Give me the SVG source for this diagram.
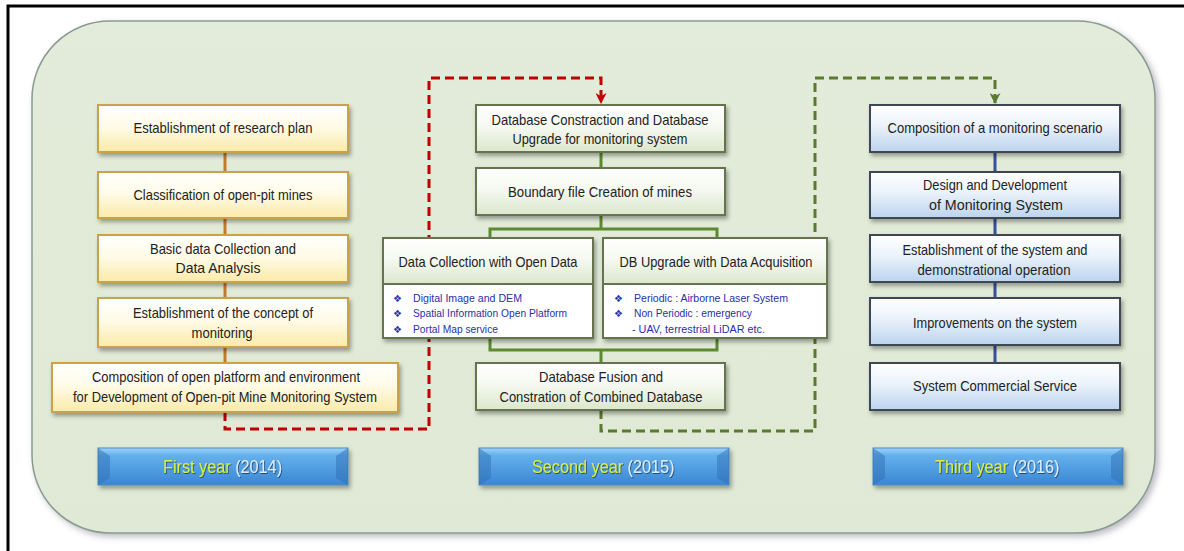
<svg xmlns="http://www.w3.org/2000/svg" width="1184" height="551" viewBox="0 0 1184 551">
<defs>
<linearGradient id="gPanel" x1="0" y1="0" x2="0" y2="1"><stop offset="0" stop-color="#e3ecda"/><stop offset="1" stop-color="#dfe9d5"/></linearGradient>
<linearGradient id="gY" x1="0" y1="0" x2="0" y2="1"><stop offset="0" stop-color="#ffffff"/><stop offset="0.45" stop-color="#fffbe8"/><stop offset="1" stop-color="#fbeaa8"/></linearGradient>
<linearGradient id="gG" x1="0" y1="0" x2="0" y2="1"><stop offset="0" stop-color="#ffffff"/><stop offset="0.45" stop-color="#f6f9f1"/><stop offset="1" stop-color="#dbe7cc"/></linearGradient>
<linearGradient id="gB" x1="0" y1="0" x2="0" y2="1"><stop offset="0" stop-color="#ffffff"/><stop offset="0.4" stop-color="#eef4fb"/><stop offset="1" stop-color="#bcd4ee"/></linearGradient>
<linearGradient id="gYear" x1="0" y1="0" x2="0" y2="1"><stop offset="0" stop-color="#9cd4f8"/><stop offset="0.2" stop-color="#64b0ec"/><stop offset="1" stop-color="#3a86d2"/></linearGradient>
<filter id="sh" x="-10%" y="-20%" width="125%" height="150%"><feDropShadow dx="2" dy="3" stdDeviation="2" flood-color="#000" flood-opacity="0.35"/></filter>
<filter id="psh" x="-5%" y="-5%" width="110%" height="115%"><feDropShadow dx="3" dy="3" stdDeviation="3" flood-color="#556" flood-opacity="0.4"/></filter>
<filter id="tsh" x="-10%" y="-30%" width="120%" height="160%"><feDropShadow dx="1" dy="1" stdDeviation="0.6" flood-color="#1a3a60" flood-opacity="0.8"/></filter>
<marker id="arR" viewBox="0 0 10 10" refX="10" refY="5" markerWidth="11" markerHeight="11" orient="auto" markerUnits="userSpaceOnUse"><path d="M0,0 L10,5 L0,10 L3,5 Z" fill="#c00000"/></marker>
<marker id="arG" viewBox="0 0 10 10" refX="10" refY="5" markerWidth="11" markerHeight="11" orient="auto" markerUnits="userSpaceOnUse"><path d="M0,0 L10,5 L0,10 L3,5 Z" fill="#5a7a30"/></marker>
</defs>
<style>
.t{font-family:"Liberation Sans Narrow","Liberation Sans",Arial,sans-serif;font-size:14.5px;fill:#222;text-anchor:middle;dominant-baseline:central}
.d{font-family:"Liberation Sans Narrow","Liberation Sans",Arial,sans-serif;font-size:11px;fill:#2a30a8;dominant-baseline:central}
.bul{font-family:"DejaVu Sans",sans-serif;font-size:10px;fill:#2a30a8;dominant-baseline:central}
.yr{font-family:"Liberation Sans",Arial,sans-serif;font-size:19px;dominant-baseline:central;filter:url(#tsh)}
.yl{fill:#d6f03c}
.yn{fill:#dcecff}
.by{fill:url(#gY);stroke:#c9a24a;stroke-width:2;filter:url(#sh)}
.bg{fill:url(#gG);stroke:#65734f;stroke-width:2;filter:url(#sh)}
.bb{fill:url(#gB);stroke:#3c4656;stroke-width:2;filter:url(#sh)}
.bw{fill:#ffffff;stroke:#65734f;stroke-width:2;filter:url(#sh)}
.year{fill:url(#gYear);stroke:#4f88be;stroke-width:1;filter:url(#sh)}
.bev{fill:#2f6fb4;opacity:0.5}
.co{stroke:#c8782e;stroke-width:3;fill:none}
.cg{stroke:#5c8a32;stroke-width:3;fill:none}
.cb{stroke:#34529a;stroke-width:3;fill:none}
.dr{stroke:#c00000;stroke-width:3;fill:none;stroke-dasharray:9 5}
.dg{stroke:#5a7a30;stroke-width:3;fill:none;stroke-dasharray:9 5}
</style>
<rect x="0" y="0" width="1184" height="551" fill="#ffffff"/>
<rect x="8" y="6" width="1190" height="560" fill="none" stroke="#000" stroke-width="3"/>
<rect x="32" y="21" width="1123" height="512" rx="78" ry="78" fill="url(#gPanel)" stroke="#8a9a92" stroke-width="1.5" filter="url(#psh)"/>

<g id="connectors">
<path class="co" d="M225,152 V172 M225,218 V235 M225,282 V298 M225,347 V363"/>
<path class="cg" d="M601,152 V168 M601,215 V229 M490,238 V229 H717 V238 M490,338 V350 H717 V338 M601,350 V363"/>
<path class="cb" d="M995,152 V172 M995,218 V235 M995,282 V298 M995,345 V363"/>
<path class="dr" d="M225,412 V429 H429 V78 H601 V104" marker-end="url(#arR)"/>
<path class="dg" d="M601,410 V431 H815 V78 H995 V104" marker-end="url(#arG)"/>
</g>

<g id="y1">
<rect class="by" x="98" y="105" width="250" height="47"/>
<text class="t" x="223" y="128" textLength="179" lengthAdjust="spacingAndGlyphs">Establishment of research plan</text>
</g>
<g id="y2">
<rect class="by" x="98" y="172" width="250" height="46"/>
<text class="t" x="223" y="195" textLength="179" lengthAdjust="spacingAndGlyphs">Classification of open-pit mines</text>
</g>
<g id="y3">
<rect class="by" x="98" y="235" width="250" height="47"/>
<text class="t" x="223" y="249" textLength="146" lengthAdjust="spacingAndGlyphs">Basic data Collection and</text>
<text class="t" x="218" y="268" textLength="85" lengthAdjust="spacingAndGlyphs">Data Analysis</text>
</g>
<g id="y4">
<rect class="by" x="98" y="298" width="250" height="49"/>
<text class="t" x="223" y="313" textLength="180" lengthAdjust="spacingAndGlyphs">Establishment of the concept of</text>
<text class="t" x="222" y="333" textLength="61" lengthAdjust="spacingAndGlyphs">monitoring</text>
</g>
<g id="y5">
<rect class="by" x="52" y="363" width="346" height="49"/>
<text class="t" x="226" y="377" textLength="268" lengthAdjust="spacingAndGlyphs">Composition of open platform and environment</text>
<text class="t" x="225" y="397" textLength="304" lengthAdjust="spacingAndGlyphs">for Development of Open-pit Mine Monitoring System</text>
</g>

<g id="m1">
<rect class="bg" x="476" y="105" width="249" height="47"/>
<text class="t" x="600" y="120" textLength="217" lengthAdjust="spacingAndGlyphs">Database Constraction  and Database</text>
<text class="t" x="600" y="139" textLength="175" lengthAdjust="spacingAndGlyphs">Upgrade for monitoring system</text>
</g>
<g id="m2">
<rect class="bg" x="476" y="168" width="249" height="47"/>
<text class="t" x="600" y="192" textLength="184" lengthAdjust="spacingAndGlyphs">Boundary file Creation  of mines</text>
</g>
<g id="m3">
<rect class="bw" x="383" y="238" width="210" height="100"/>
<rect x="383" y="238" width="210" height="46" fill="url(#gG)" stroke="#65734f" stroke-width="2"/>
<text class="t" x="488" y="262" textLength="179" lengthAdjust="spacingAndGlyphs">Data Collection with Open Data</text>
<text class="bul" x="393" y="298">❖</text><text class="d" x="413" y="298" textLength="109" lengthAdjust="spacingAndGlyphs">Digital  Image  and  DEM</text>
<text class="bul" x="393" y="313">❖</text><text class="d" x="413" y="313" textLength="154" lengthAdjust="spacingAndGlyphs">Spatial  Information  Open  Platform</text>
<text class="bul" x="393" y="329">❖</text><text class="d" x="413" y="329" textLength="85" lengthAdjust="spacingAndGlyphs">Portal  Map service</text>
</g>
<g id="m4">
<rect class="bw" x="603" y="238" width="224" height="100"/>
<rect x="603" y="238" width="224" height="46" fill="url(#gG)" stroke="#65734f" stroke-width="2"/>
<text class="t" x="716" y="262" textLength="193" lengthAdjust="spacingAndGlyphs">DB Upgrade with Data Acquisition</text>
<text class="bul" x="614" y="298">❖</text><text class="d" x="634" y="298" textLength="154" lengthAdjust="spacingAndGlyphs">Periodic  :  Airborne  Laser  System</text>
<text class="bul" x="614" y="313">❖</text><text class="d" x="634" y="313" textLength="118" lengthAdjust="spacingAndGlyphs">Non Periodic  : emergency</text>
<text class="d" x="632" y="329" textLength="133" lengthAdjust="spacingAndGlyphs">-  UAV, terrestrial  LiDAR etc.</text>
</g>
<g id="m5">
<rect class="bg" x="476" y="363" width="249" height="47"/>
<text class="t" x="601" y="377" textLength="124" lengthAdjust="spacingAndGlyphs">Database Fusion and</text>
<text class="t" x="601" y="397" textLength="203" lengthAdjust="spacingAndGlyphs">Constration of Combined Database</text>
</g>

<g id="b1">
<rect class="bb" x="870" y="105" width="250" height="47"/>
<text class="t" x="995" y="128" textLength="215" lengthAdjust="spacingAndGlyphs">Composition of a monitoring scenario</text>
</g>
<g id="b2">
<rect class="bb" x="870" y="172" width="250" height="46"/>
<text class="t" x="995" y="185" textLength="144" lengthAdjust="spacingAndGlyphs">Design and Development</text>
<text class="t" x="996" y="205" textLength="134" lengthAdjust="spacingAndGlyphs">of Monitoring System</text>
</g>
<g id="b3">
<rect class="bb" x="870" y="235" width="250" height="47"/>
<text class="t" x="995" y="250" textLength="185" lengthAdjust="spacingAndGlyphs">Establishment of the system and</text>
<text class="t" x="994" y="270" textLength="153" lengthAdjust="spacingAndGlyphs">demonstrational operation</text>
</g>
<g id="b4">
<rect class="bb" x="870" y="298" width="250" height="47"/>
<text class="t" x="995" y="323" textLength="164" lengthAdjust="spacingAndGlyphs">Improvements on the system</text>
</g>
<g id="b5">
<rect class="bb" x="870" y="363" width="250" height="47"/>
<text class="t" x="995" y="386" textLength="164" lengthAdjust="spacingAndGlyphs">System Commercial Service</text>
</g>

<g id="year1">
<rect class="year" x="98" y="448" width="250" height="37"/>
<path class="bev" d="M98,448 L110,456 L110,478 L98,485 Z M348,448 L336,456 L336,478 L348,485 Z"/>
<text class="yr" transform="translate(163,467) scale(0.855,1)" x="0" y="0"><tspan class="yl">First year </tspan><tspan class="yn">(2014)</tspan></text>
</g>
<g id="year2">
<rect class="year" x="479" y="448" width="250" height="37"/>
<path class="bev" d="M479,448 L491,456 L491,478 L479,485 Z M729,448 L717,456 L717,478 L729,485 Z"/>
<text class="yr" transform="translate(532,467) scale(0.855,1)" x="0" y="0"><tspan class="yl">Second year </tspan><tspan class="yn">(2015)</tspan></text>
</g>
<g id="year3">
<rect class="year" x="873" y="448" width="250" height="37"/>
<path class="bev" d="M873,448 L885,456 L885,478 L873,485 Z M1123,448 L1111,456 L1111,478 L1123,485 Z"/>
<text class="yr" transform="translate(935,467) scale(0.855,1)" x="0" y="0"><tspan class="yl">Third year </tspan><tspan class="yn">(2016)</tspan></text>
</g>
</svg>
